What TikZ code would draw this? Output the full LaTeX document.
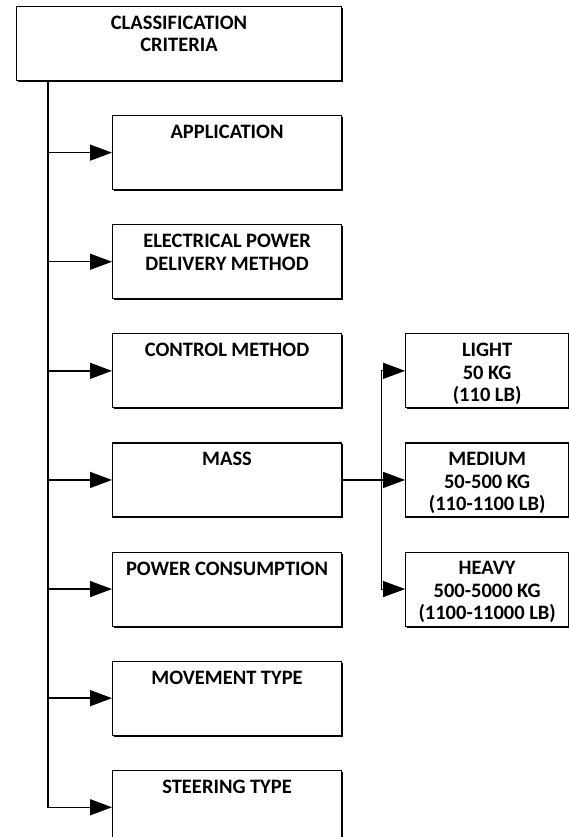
\documentclass[tikz,border=0pt]{standalone}
\usepackage{fontspec}
\setmainfont{Carlito}
\usetikzlibrary{arrows.meta,positioning,shadows}
\newcommand{\toptext}[1]{\parbox[c][55pt][t]{\linewidth}{\centering\spaceskip=0.22em #1}}

\begin{document}
\begin{tikzpicture}[
    font=\bfseries\fontsize{20.5}{22.5}\selectfont,
    box/.style={draw, line width=1.1pt, fill=white, inner xsep=0pt, inner ysep=9.5pt,
                drop shadow={shadow xshift=1.5pt, shadow yshift=-1.5pt, fill=black, opacity=1}},
    root/.style={box, text width=325pt},
    crit/.style={box, text width=229pt},
    class/.style={box, text width=163pt},
    arr/.style={-{Triangle[length=22pt,width=16pt]}, line width=1.4pt},
    fork/.style={-{Triangle[length=22pt,width=16pt]}, line width=0.9pt}
  ]
  \useasboundingbox (0,0) rectangle (568pt,-837pt);
  \node[root, anchor=north west] (crit) at (16pt,-6pt) {\toptext{CLASSIFICATION\\CRITERIA}};
  \node[crit, below left=34pt and 0pt of crit.south east] (app) {\toptext{APPLICATION}};
  \node[crit, below=34pt of app] (elec) {\toptext{ELECTRICAL POWER\\DELIVERY METHOD}};
  \node[crit, below=34pt of elec] (ctrl) {\toptext{CONTROL METHOD}};
  \node[crit, below=34pt of ctrl] (mass) {\toptext{MASS}};
  \node[crit, below=34pt of mass] (power) {\toptext{POWER CONSUMPTION}};
  \node[crit, below=34pt of power] (move) {\toptext{MOVEMENT TYPE}};
  \node[crit, below=34pt of move] (steer) {\toptext{STEERING TYPE}};
  \node[class, right=63pt of ctrl] (light) {\toptext{LIGHT\\50 KG\\(110 LB)}};
  \node[class, right=63pt of mass] (medium) {\toptext{MEDIUM\\50-500 KG\\(110-1100 LB)}};
  \node[class, right=63pt of power] (heavy) {\toptext{HEAVY\\500-5000 KG\\(1100-11000 LB)}};
  \coordinate (trunk) at ([xshift=32pt]crit.south west);
  \coordinate (split) at ([xshift=39pt]mass.east);
  \draw[arr] (trunk) |- (app);
  \draw[arr] (trunk) |- (elec);
  \draw[arr] (trunk) |- (ctrl);
  \draw[arr] (trunk) |- (mass);
  \draw[arr] (trunk) |- (power);
  \draw[arr] (trunk) |- (move);
  \draw[arr] (trunk) |- (steer);
  \draw[arr] (mass) -- (medium);
  \draw[fork] (split) |- (light);
  \draw[fork] (split) |- (heavy);
\end{tikzpicture}
\end{document}
